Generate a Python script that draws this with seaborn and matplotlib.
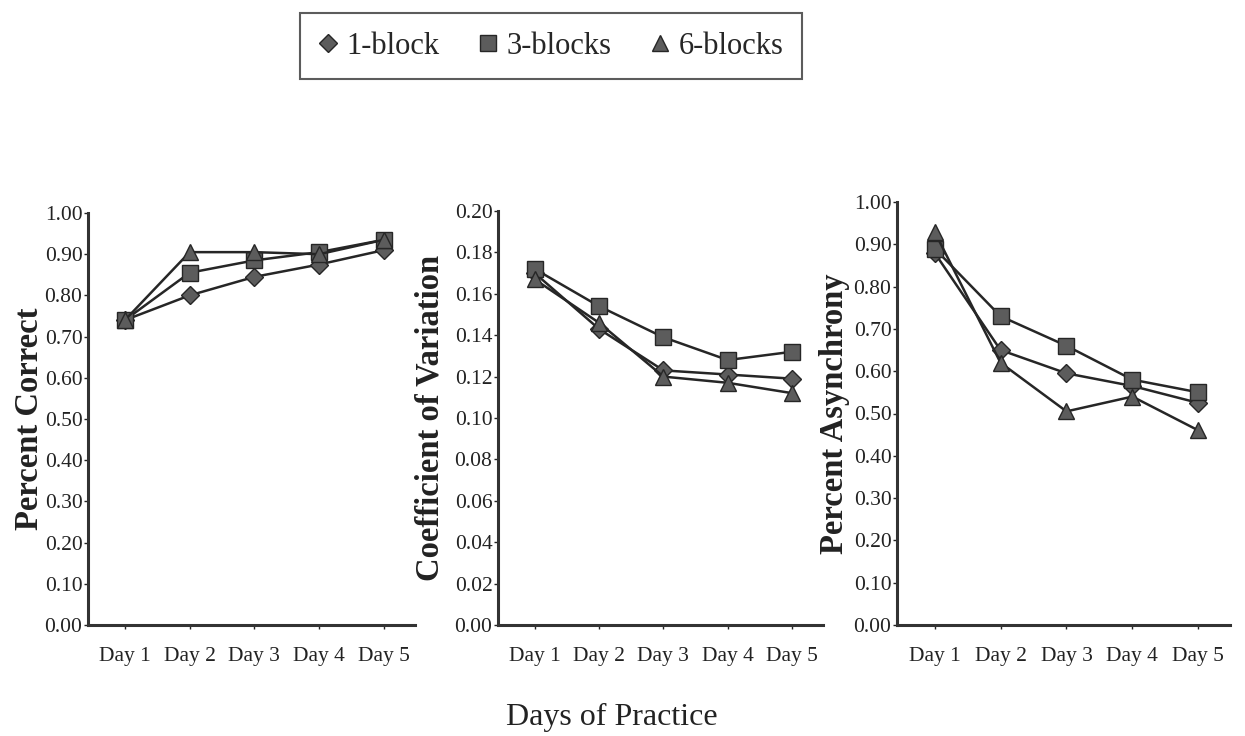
import matplotlib
matplotlib.use("Agg")
import matplotlib.pyplot as plt
from matplotlib.lines import Line2D
import seaborn as sns
import pandas as pd
import numpy as np

days = ["Day 1", "Day 2", "Day 3", "Day 4", "Day 5"]
groups = ["1-block", "3-blocks", "6-blocks"]

pc_1block = [0.74, 0.80, 0.845, 0.875, 0.91]
pc_3blocks = [0.74, 0.855, 0.885, 0.905, 0.935]
pc_6blocks = [0.74, 0.905, 0.905, 0.90, 0.935]

cv_1block = [0.170, 0.143, 0.123, 0.121, 0.119]
cv_3blocks = [0.172, 0.154, 0.139, 0.128, 0.132]
cv_6blocks = [0.167, 0.146, 0.120, 0.117, 0.112]

pa_1block = [0.88, 0.65, 0.595, 0.565, 0.525]
pa_3blocks = [0.89, 0.73, 0.66, 0.58, 0.55]
pa_6blocks = [0.93, 0.62, 0.505, 0.54, 0.46]

panels = [
    ("Percent Correct", [pc_1block, pc_3blocks, pc_6blocks], 1.0, 0.1),
    ("Coefficient of Variation", [cv_1block, cv_3blocks, cv_6blocks], 0.2, 0.02),
    ("Percent Asynchrony", [pa_1block, pa_3blocks, pa_6blocks], 1.0, 0.1),
]

sns.set_theme(style="ticks")
plt.rcParams["font.family"] = ["Liberation Serif", "DejaVu Serif"]

markers = {"1-block": "D", "3-blocks": "s", "6-blocks": "^"}
msizes = {"1-block": 9, "3-blocks": 12, "6-blocks": 12}
line_color = "#262626"
face_color = "#5c5c5c"

fig = plt.figure(figsize=(12.45, 7.36), dpi=100)
W, H = 1245, 736
# axes boxes in pixels: (left, right, top, bottom)
boxes = [(88, 415, 213, 625), (498, 823, 211, 625), (897, 1230, 202, 625)]
ylabel_x = [30, 430, 835]

for (ylabel, series, ymax, step), (l, r, t, b), ylx in zip(panels, boxes, ylabel_x):
    ax = fig.add_axes([l / W, 1 - b / H, (r - l) / W, (b - t) / H])
    rows = []
    for g, vals in zip(groups, series):
        for i, v in enumerate(vals):
            rows.append({"day": i, "value": v, "group": g})
    df = pd.DataFrame(rows)
    sns.lineplot(data=df, x="day", y="value", hue="group", style="group",
                 markers=markers, dashes=False, palette=[line_color] * 3,
                 linewidth=1.8, ax=ax, legend=False, markersize=11)
    for line, g in zip(ax.lines, groups):
        line.set_markerfacecolor(face_color)
        line.set_markeredgecolor(line_color)
        line.set_markeredgewidth(1.0)
        line.set_markersize(msizes[g])
    ax.set_xlim(-0.57, 4.48)
    ax.set_ylim(0, ymax)
    ax.set_xticks(range(len(days)))
    ax.set_xticklabels(days, fontsize=15.5)
    yt = np.arange(0, ymax + step / 2, step)
    ax.set_yticks(yt)
    ax.set_yticklabels([f"{v:.2f}" for v in yt], fontsize=15.5)
    ax.tick_params(axis="x", length=3, width=1, pad=13, colors="#222222")
    ax.tick_params(axis="y", length=3, width=1, pad=1, colors="#222222")
    for s in ["top", "right"]:
        ax.spines[s].set_visible(False)
    for s in ["left", "bottom"]:
        ax.spines[s].set_linewidth(2.2)
        ax.spines[s].set_color("#333333")
    ax.set_xlabel("")
    ax.set_ylabel("")
    fig.text(ylx / W, 1 - ((t + b) / 2) / H, ylabel, rotation=90, fontsize=23.5,
             fontweight="bold", ha="center", va="center", color="#222222")

fig.text(612 / W, 1 - 717 / H, "Days of Practice", fontsize=23, ha="center",
         va="center", color="#222222")

handles = [Line2D([], [], linestyle="none", marker=markers[g], markersize=msizes[g],
                  markerfacecolor=face_color, markeredgecolor=line_color) for g in groups]
leg = fig.legend(handles, groups, loc="center", bbox_to_anchor=(551 / W, 1 - 46 / H),
                 ncol=3, fontsize=22, frameon=True, fancybox=False, handlelength=0.6,
                 handletextpad=0.3, columnspacing=1.3, borderpad=0.6, borderaxespad=0)
leg.get_frame().set_edgecolor("#333333")
leg.get_frame().set_linewidth(1.5)

fig.savefig("out.png", dpi=100, facecolor="white")
